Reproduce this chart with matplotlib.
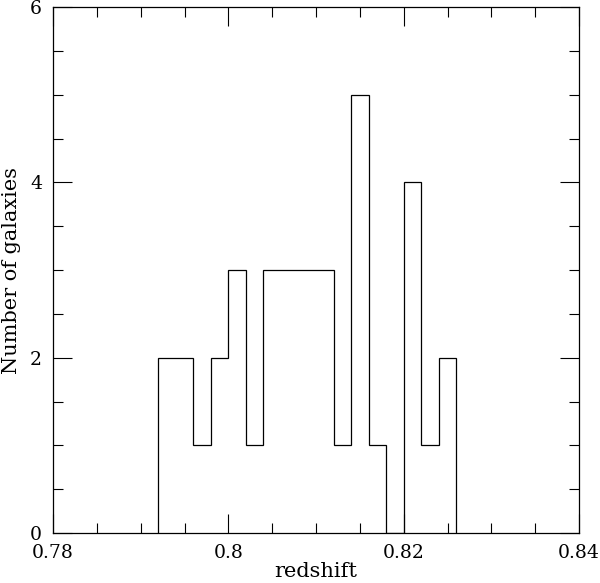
import numpy as np
import matplotlib
matplotlib.use("Agg")
from matplotlib import pyplot as plt
from matplotlib.ticker import MultipleLocator

# redshift bin edges and galaxy counts
edges = [0.792, 0.794, 0.796, 0.798, 0.800, 0.802, 0.804, 0.806, 0.808,
         0.810, 0.812, 0.814, 0.816, 0.818, 0.820, 0.822, 0.824, 0.826]
counts = [2, 2, 1, 2, 3, 1, 3, 3, 3, 3, 1, 5, 1, 0, 4, 1, 2]

xticks = [0.78, 0.80, 0.82, 0.84]
xticklabels = ['0.78', '0.8', '0.82', '0.84']
yticks = [0, 2, 4, 6]

plt.rcParams['font.family'] = ['DejaVu Serif']

fig = plt.figure(figsize=(6.0, 5.83), dpi=100)
ax = fig.add_axes([53/600, 50/583, 526/600, 526/583])

ax.stairs(counts, edges, baseline=0, fill=False, color='black', linewidth=0.9)

ax.set_xlim(0.78, 0.84)
ax.set_ylim(0, 6)
ax.set_xticks(xticks)
ax.set_xticklabels(xticklabels)
ax.set_yticks(yticks)
ax.xaxis.set_minor_locator(MultipleLocator(0.005))
ax.yaxis.set_minor_locator(MultipleLocator(0.5))

ax.tick_params(which='both', direction='in', top=True, right=True,
               labelsize=13.5, width=0.8)
ax.tick_params(which='major', length=14)
ax.tick_params(which='minor', length=7)
ax.tick_params(axis='x', pad=8)
ax.tick_params(axis='y', pad=8)
for s in ax.spines.values():
    s.set_linewidth(0.9)

ax.set_xlabel('redshift', fontsize=15, va='center')
ax.set_ylabel('Number of galaxies', fontsize=15, va='center')
ax.xaxis.set_label_coords(0.5, -0.074)
ax.yaxis.set_label_coords(-0.078, 0.5)

fig.savefig('out.png', dpi=100)
